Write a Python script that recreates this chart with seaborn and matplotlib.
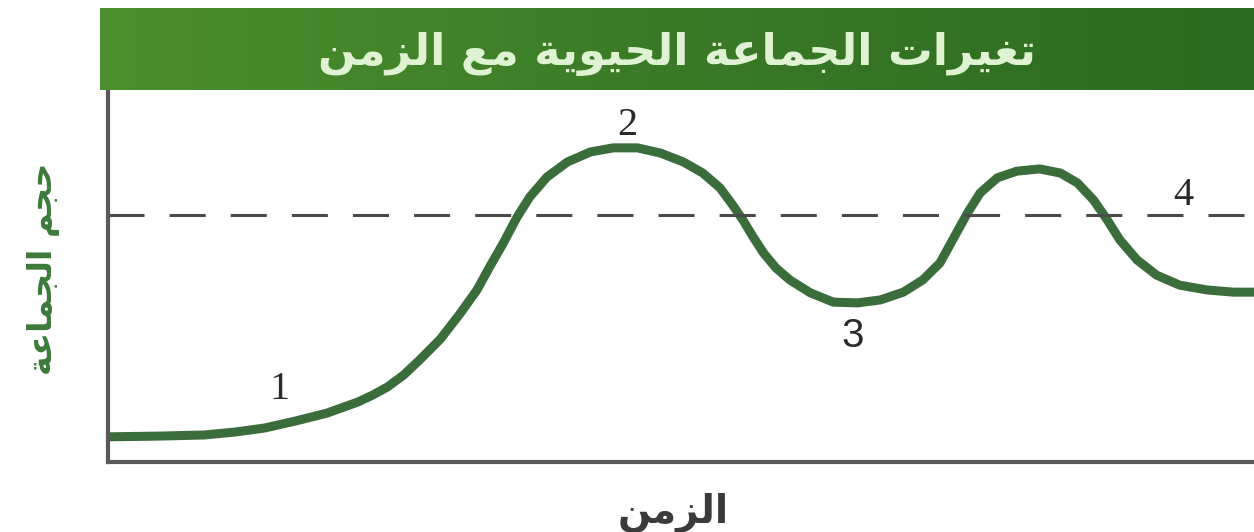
import numpy as np
import matplotlib
matplotlib.use('Agg')
import matplotlib.pyplot as plt
from matplotlib.colors import LinearSegmentedColormap
import seaborn as sns

# values (time and population size in arbitrary 0-100 units)
time = [0, 4.5, 8.4, 11.1, 13.7, 16.4, 19.1, 21.8, 23.1, 24.4, 25.8, 27.2,
        29.0, 30.7, 32.2, 33.3, 34.5, 35.7, 36.8, 38.3, 40.1, 42.1, 44.1,
        46.2, 48.2, 50.2, 51.9, 53.4, 54.5, 55.4, 56.3, 57.2, 58.3, 59.5,
        61.3, 63.3, 65.4, 67.4, 69.4, 71.1, 72.6, 73.7, 75.0, 76.1, 77.6,
        79.3, 81.3, 83.1, 84.6, 86.0, 87.2, 88.3, 89.8, 91.5, 93.5, 95.9,
        98.2, 100]
size = [6.8, 7.0, 7.3, 8.1, 9.2, 11.1, 13.2, 16.2, 18.1, 20.3, 23.5, 27.6,
        33.2, 40.0, 46.5, 52.7, 59.2, 66.2, 71.6, 77.0, 81.1, 83.8, 84.9,
        84.9, 83.5, 81.1, 78.1, 74.1, 69.5, 65.4, 60.8, 56.5, 52.4, 49.2,
        45.7, 43.2, 43.0, 43.8, 45.9, 49.2, 53.8, 60.0, 67.3, 72.7, 76.8,
        78.6, 79.2, 78.1, 75.4, 70.8, 65.4, 60.0, 54.6, 50.5, 47.8, 46.5,
        45.9, 45.9]
carrying_capacity = 66.8

stage_labels = ['1', '2', '3', '4']
stage_time = [15.0, 45.3, 65.0, 93.8]
stage_size = [19.5, 91.0, 34.0, 72.0]

title = 'تغيرات الجماعة الحيوية مع الزمن'
ylabel = 'حجم الجماعة'
xlabel = 'الزمن'

# minimal arabic shaping: isolated, final, initial, medial
FORMS = {
    'ا': ('\uFE8D', '\uFE8E', None, None),
    'ة': ('\uFE93', '\uFE94', None, None),
    'ر': ('\uFEAD', '\uFEAE', None, None),
    'ز': ('\uFEAF', '\uFEB0', None, None),
    'و': ('\uFEED', '\uFEEE', None, None),
    'ت': ('\uFE95', '\uFE96', '\uFE97', '\uFE98'),
    'ج': ('\uFE9D', '\uFE9E', '\uFE9F', '\uFEA0'),
    'ح': ('\uFEA1', '\uFEA2', '\uFEA3', '\uFEA4'),
    'ع': ('\uFEC9', '\uFECA', '\uFECB', '\uFECC'),
    'غ': ('\uFECD', '\uFECE', '\uFECF', '\uFED0'),
    'ل': ('\uFEDD', '\uFEDE', '\uFEDF', '\uFEE0'),
    'م': ('\uFEE1', '\uFEE2', '\uFEE3', '\uFEE4'),
    'ن': ('\uFEE5', '\uFEE6', '\uFEE7', '\uFEE8'),
    'ي': ('\uFEF1', '\uFEF2', '\uFEF3', '\uFEF4'),
}


def shape(text):
    out = []
    for i, ch in enumerate(text):
        if ch not in FORMS:
            out.append(ch)
            continue
        prev = text[i - 1] if i > 0 else ''
        nxt = text[i + 1] if i + 1 < len(text) else ''
        jp = prev in FORMS and FORMS[prev][2] is not None
        jn = nxt in FORMS and FORMS[ch][2] is not None
        iso, fin, ini, med = FORMS[ch]
        if jp and jn:
            out.append(med)
        elif jp:
            out.append(fin)
        elif jn:
            out.append(ini)
        else:
            out.append(iso)
    return ''.join(reversed(out))


sns.set_theme(style='white')
plt.rcParams['font.family'] = ['DejaVu Sans']

fig = plt.figure(figsize=(12.54, 5.32), dpi=100)
ax = fig.add_axes([0.0861, 0.1316, 0.9139, 0.6955])

sns.lineplot(x=time, y=size, ax=ax, color='#3b6d3c', linewidth=6.5,
             solid_capstyle='round', solid_joinstyle='round')
ax.axhline(carrying_capacity, color='#4a4a4a', linewidth=2.2,
           dashes=(11.8, 8.2))

for lab, t, s in zip(stage_labels, stage_time, stage_size):
    fam = 'Liberation Sans' if lab == '3' else 'Liberation Serif'
    ax.text(t, s, lab, ha='center', va='center', fontsize=29,
            family=fam, color='#2a2a2a')

ax.set_xlim(0, 100)
ax.set_ylim(0, 100)
ax.set_xticks([])
ax.set_yticks([])
ax.spines['top'].set_visible(False)
ax.spines['right'].set_visible(False)
for sp in ('left', 'bottom'):
    ax.spines[sp].set_color('#5a5a5a')
    ax.spines[sp].set_linewidth(3)

# green title bar
bar = fig.add_axes([0.0797, 0.830, 0.9203, 0.155])
cmap = LinearSegmentedColormap.from_list('bar', ['#4d8e2f', '#3a7a27', '#2c6a21'])
bar.imshow(np.linspace(0, 1, 256).reshape(1, -1), aspect='auto', cmap=cmap,
           extent=(0, 1, 0, 1))
bar.set_xlim(0, 1)
bar.set_ylim(0, 1)
bar.axis('off')
bar.text(0.5, 0.44, shape(title), ha='center', va='center', fontsize=32,
         fontweight='bold', color='#dff3d2')

fig.text(0.035, 0.495, shape(ylabel), rotation=90, ha='center', va='center',
         fontsize=24, fontweight='bold', color='#3d7a3a')
fig.text(0.537, 0.038, shape(xlabel), ha='center', va='center',
         fontsize=28, fontweight='bold', color='#3a3a3a')

fig.savefig('out.png', dpi=100)
